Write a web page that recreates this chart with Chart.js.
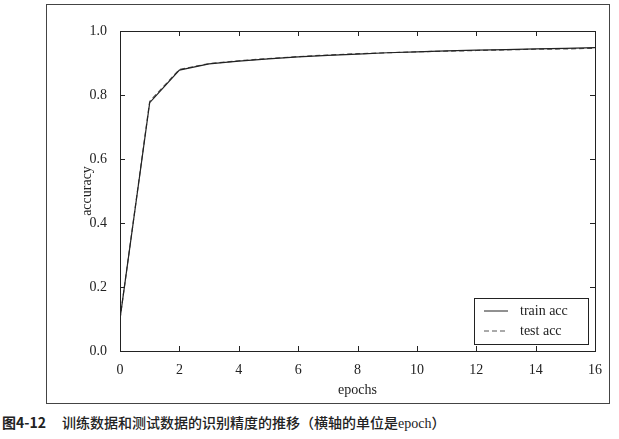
<!DOCTYPE html>
<html><head><meta charset="utf-8">
<script src="https://cdn.jsdelivr.net/npm/chart.js@4"></script>
<style>
body{margin:0;background:#fff;width:619px;height:439px;position:relative;overflow:hidden}
#frame{position:absolute;left:46px;top:4px;width:564px;height:400px;border:1px solid #444;box-sizing:border-box}
#wrap{position:absolute;left:47px;top:5px;width:562px;height:398px}
#cap{position:absolute;left:2px;top:412px;font-family:"Noto Sans CJK SC";font-size:14px;font-weight:500;color:#222;white-space:nowrap}
#cap b{font-weight:bold;margin-right:16px}
</style></head><body>
<div id="frame"></div>
<div id="wrap"><canvas id="c"></canvas></div>
<div id="cap"><b>图4-12</b>训练数据和测试数据的识别精度的推移（横轴的单位是<span style="font-family:'Liberation Serif'">epoch</span>）</div>
<script>
const epochs=[0,1,2,3,4,5,6,7,8,9,10,11,12,13,14,15,16];
const trainAcc=[0.10,0.776,0.878,0.897,0.906,0.913,0.919,0.924,0.928,0.932,0.935,0.938,0.940,0.942,0.944,0.946,0.948];
const testAcc=[0.10,0.780,0.880,0.898,0.907,0.914,0.920,0.925,0.929,0.932,0.935,0.937,0.939,0.941,0.943,0.944,0.946];
const xTicks=[0,2,4,6,8,10,12,14,16];
const yTicks=[0,0.2,0.4,0.6,0.8,1.0];
const FONT="'Liberation Serif', 'DejaVu Serif', serif";
const inTicks={id:'inTicks',afterDatasetsDraw(ch){
 const {ctx,chartArea:a,scales:{x,y}}=ch;ctx.save();ctx.strokeStyle='#222';ctx.lineWidth=1;
 xTicks.forEach(v=>{const p=Math.round(x.getPixelForValue(v))+.5;ctx.beginPath();ctx.moveTo(p,a.bottom);ctx.lineTo(p,a.bottom-5);ctx.moveTo(p,a.top);ctx.lineTo(p,a.top+5);ctx.stroke();});
 yTicks.forEach(v=>{const p=Math.round(y.getPixelForValue(v))+.5;ctx.beginPath();ctx.moveTo(a.left,p);ctx.lineTo(a.left+5,p);ctx.moveTo(a.right,p);ctx.lineTo(a.right-5,p);ctx.stroke();});
 ctx.strokeRect(a.left+.5,a.top+.5,a.right-a.left,a.bottom-a.top);
 const w=114,h=46,lx=a.right-w-7,ly=a.bottom-h-7;
 ctx.fillStyle='#fff';ctx.fillRect(lx,ly,w,h);ctx.strokeRect(lx+.5,ly+.5,w,h);
 ctx.font='14px '+FONT;ctx.fillStyle='#222';ctx.textBaseline='middle';
 ch.data.datasets.forEach((d,i)=>{const yy=ly+13+i*20;ctx.setLineDash(d.borderDash||[]);ctx.strokeStyle=d.borderColor;ctx.beginPath();ctx.moveTo(lx+10,yy);ctx.lineTo(lx+34,yy);ctx.stroke();ctx.setLineDash([]);ctx.fillText(d.label,lx+46,yy);});
 ctx.restore();}};
new Chart(document.getElementById('c'),{type:'line',
 data:{datasets:[
  {label:'train acc',data:epochs.map((e,i)=>({x:e,y:trainAcc[i]})),borderColor:'#222',borderWidth:1.2,pointRadius:0,tension:0},
  {label:'test acc',data:epochs.map((e,i)=>({x:e,y:testAcc[i]})),borderColor:'#555',borderDash:[5,3],borderWidth:1.2,pointRadius:0,tension:0}]},
 options:{responsive:true,maintainAspectRatio:false,animation:false,
  layout:{padding:{top:26,right:14,left:28,bottom:0}},
  plugins:{legend:{display:false},tooltip:{enabled:false}},
  scales:{
   x:{type:'linear',min:0,max:16,afterBuildTicks(s){s.ticks=xTicks.map(v=>({value:v}));},
      afterFit(s){s.height=52;},
      grid:{display:false},border:{display:false},
      ticks:{color:'#222',font:{family:FONT,size:14},padding:3,maxRotation:0},
      title:{display:true,text:'epochs',color:'#222',font:{family:FONT,size:14},padding:{top:1}}},
   y:{min:0,max:1,afterBuildTicks(s){s.ticks=yTicks.map(v=>({value:v}));},
      afterFit(s){s.width=45;},
      grid:{display:false},border:{display:false},
      ticks:{color:'#222',font:{family:FONT,size:14},padding:5,callback:v=>v.toFixed(1)},
      title:{display:true,text:'accuracy',color:'#222',font:{family:FONT,size:14},padding:{bottom:4}}}}},
 plugins:[inTicks]});
</script></body></html>
